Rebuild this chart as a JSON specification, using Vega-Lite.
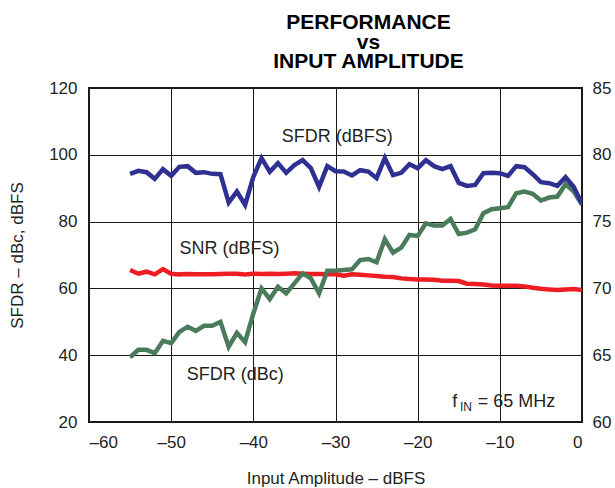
{
  "$schema": "https://vega.github.io/schema/vega-lite/v6.json",
  "width": 493,
  "height": 334,
  "autosize": {"type": "none"},
  "padding": {"left": 89, "top": 88, "right": 33, "bottom": 66},
  "background": "white",
  "config": {
    "font": "Liberation Sans",
    "view": {"stroke": "#1a1a1a", "strokeWidth": 2},
    "axis": {
      "domain": false,
      "ticks": false,
      "labelFont": "Liberation Sans",
      "labelFontSize": 17,
      "labelColor": "#231f20",
      "titleFont": "Liberation Sans",
      "titleFontSize": 17,
      "titleFontWeight": "normal",
      "titleColor": "#231f20",
      "gridColor": "#1a1a1a",
      "gridWidth": 1,
      "gridOpacity": 1
    }
  },
  "title": {
    "text": ["PERFORMANCE", "vs", "INPUT AMPLITUDE"],
    "font": "Liberation Sans",
    "fontSize": 21,
    "fontWeight": "bold",
    "color": "#000000",
    "anchor": "middle",
    "dx": 33,
    "lineHeight": 19.5,
    "offset": 7
  },
  "datasets": {
    "perf": [
      {"x": -55, "dbfs": 94.3, "snr": 65.5, "dbc": 39.4},
      {"x": -54, "dbfs": 95.2, "snr": 64.4, "dbc": 41.6},
      {"x": -53, "dbfs": 94.8, "snr": 65.0, "dbc": 41.6},
      {"x": -52, "dbfs": 92.8, "snr": 64.2, "dbc": 40.6},
      {"x": -51, "dbfs": 95.7, "snr": 65.8, "dbc": 44.3},
      {"x": -50, "dbfs": 93.7, "snr": 64.4, "dbc": 43.6},
      {"x": -49, "dbfs": 96.4, "snr": 64.2, "dbc": 47.0},
      {"x": -48, "dbfs": 96.6, "snr": 64.3, "dbc": 48.5},
      {"x": -47, "dbfs": 94.6, "snr": 64.2, "dbc": 47.3},
      {"x": -46, "dbfs": 94.8, "snr": 64.2, "dbc": 48.8},
      {"x": -45, "dbfs": 94.3, "snr": 64.2, "dbc": 48.8},
      {"x": -44, "dbfs": 94.2, "snr": 64.3, "dbc": 50.0},
      {"x": -43, "dbfs": 85.7, "snr": 64.4, "dbc": 42.5},
      {"x": -42, "dbfs": 89.0, "snr": 64.4, "dbc": 46.7},
      {"x": -41, "dbfs": 85.0, "snr": 64.2, "dbc": 43.9},
      {"x": -40, "dbfs": 93.4, "snr": 64.4, "dbc": 52.5},
      {"x": -39, "dbfs": 99.0, "snr": 64.3, "dbc": 60.0},
      {"x": -38, "dbfs": 94.9, "snr": 64.4, "dbc": 56.8},
      {"x": -37, "dbfs": 97.5, "snr": 64.3, "dbc": 60.5},
      {"x": -36, "dbfs": 94.6, "snr": 64.4, "dbc": 58.5},
      {"x": -35, "dbfs": 96.9, "snr": 64.5, "dbc": 61.5},
      {"x": -34, "dbfs": 98.4, "snr": 64.4, "dbc": 64.5},
      {"x": -33, "dbfs": 96.0, "snr": 64.3, "dbc": 63.0},
      {"x": -32, "dbfs": 90.4, "snr": 64.3, "dbc": 58.5},
      {"x": -31, "dbfs": 96.6, "snr": 64.2, "dbc": 65.3},
      {"x": -30, "dbfs": 95.1, "snr": 64.2, "dbc": 65.3},
      {"x": -29, "dbfs": 95.0, "snr": 63.8, "dbc": 65.5},
      {"x": -28, "dbfs": 93.8, "snr": 64.2, "dbc": 65.7},
      {"x": -27, "dbfs": 95.4, "snr": 64.1, "dbc": 68.5},
      {"x": -26, "dbfs": 95.0, "snr": 63.9, "dbc": 68.8},
      {"x": -25, "dbfs": 93.0, "snr": 63.7, "dbc": 67.8},
      {"x": -24, "dbfs": 99.0, "snr": 63.5, "dbc": 74.7},
      {"x": -23, "dbfs": 93.9, "snr": 63.4, "dbc": 70.7},
      {"x": -22, "dbfs": 94.6, "snr": 63.0, "dbc": 72.2},
      {"x": -21, "dbfs": 97.2, "snr": 62.8, "dbc": 76.0},
      {"x": -20, "dbfs": 96.0, "snr": 62.7, "dbc": 75.7},
      {"x": -19, "dbfs": 98.4, "snr": 62.7, "dbc": 79.5},
      {"x": -18, "dbfs": 96.6, "snr": 62.6, "dbc": 78.8},
      {"x": -17, "dbfs": 95.7, "snr": 62.3, "dbc": 78.8},
      {"x": -16, "dbfs": 96.6, "snr": 62.3, "dbc": 80.8},
      {"x": -15, "dbfs": 91.6, "snr": 62.2, "dbc": 76.3},
      {"x": -14, "dbfs": 90.7, "snr": 61.4, "dbc": 76.7},
      {"x": -13, "dbfs": 91.0, "snr": 61.3, "dbc": 77.7},
      {"x": -12, "dbfs": 94.5, "snr": 61.2, "dbc": 82.5},
      {"x": -11, "dbfs": 94.6, "snr": 60.9, "dbc": 83.7},
      {"x": -10, "dbfs": 94.5, "snr": 60.8, "dbc": 84.0},
      {"x": -9, "dbfs": 93.7, "snr": 60.8, "dbc": 84.3},
      {"x": -8, "dbfs": 96.6, "snr": 60.8, "dbc": 88.5},
      {"x": -7, "dbfs": 96.3, "snr": 60.6, "dbc": 89.0},
      {"x": -6, "dbfs": 94.2, "snr": 60.2, "dbc": 88.3},
      {"x": -5, "dbfs": 91.8, "snr": 59.9, "dbc": 86.3},
      {"x": -4, "dbfs": 91.5, "snr": 59.7, "dbc": 87.2},
      {"x": -3, "dbfs": 90.7, "snr": 59.5, "dbc": 87.5},
      {"x": -2, "dbfs": 93.3, "snr": 59.7, "dbc": 91.2},
      {"x": -1, "dbfs": 90.4, "snr": 59.8, "dbc": 89.0},
      {"x": 0, "dbfs": 85.3, "snr": 59.5, "dbc": 85.0}
    ],
    "notes": [
      {"label": "SFDR (dBFS)", "x": -29.8, "value": 103.7},
      {"label": "SNR (dBFS)", "x": -42.9, "value": 70.3},
      {"label": "SFDR (dBc)", "x": -42.2, "value": 32.6}
    ],
    "fin": [
      {"part": "f", "x": -15.8, "value": 24.6},
      {"part": "= 65 MHz", "x": -12.7, "value": 24.6}
    ],
    "finsub": [
      {"part": "IN", "x": -14.85, "value": 23.4}
    ]
  },
  "layer": [
    {
      "encoding": {
        "x": {
          "field": "x",
          "type": "quantitative",
          "scale": {"domain": [-60, 0], "nice": false, "zero": false},
          "axis": {
            "values": [-60, -50, -40, -30, -20, -10, 0],
            "grid": true,
            "labelPadding": 12,
            "labelExpr": "datum.value < 0 ? '\u2013' + abs(datum.value) : '' + datum.value",
            "title": "Input Amplitude \u2013 dBFS",
            "titlePadding": 20
          }
        },
        "y": {
          "field": "value",
          "type": "quantitative",
          "scale": {"domain": [20, 120], "nice": false, "zero": false},
          "axis": {
            "values": [20, 40, 60, 80, 100, 120],
            "grid": true,
            "labelPadding": 12,
            "title": "SFDR \u2013 dBc, dBFS",
            "titlePadding": 22
          }
        }
      },
      "layer": [
        {
          "data": {"name": "perf"},
          "transform": [{"fold": ["snr", "dbc", "dbfs"], "as": ["series", "value"]}],
          "mark": {"type": "line", "strokeWidth": 4.5, "clip": true},
          "encoding": {
            "color": {
              "field": "series",
              "type": "nominal",
              "scale": {"domain": ["snr", "dbc", "dbfs"], "range": ["#ee1d23", "#4a7b5b", "#2e3192"]},
              "legend": null
            },
            "order": {"field": "x", "type": "quantitative"}
          }
        },
        {
          "data": {"name": "notes"},
          "mark": {"type": "text", "fontSize": 18, "align": "center", "baseline": "alphabetic", "color": "#231f20", "font": "Liberation Sans"},
          "encoding": {
            "text": {"field": "label"}
          }
        },
        {
          "data": {"name": "fin"},
          "mark": {"type": "text", "fontSize": 18, "align": "left", "baseline": "alphabetic", "color": "#231f20", "font": "Liberation Sans"},
          "encoding": {
            "text": {"field": "part"}
          }
        },
        {
          "data": {"name": "finsub"},
          "mark": {"type": "text", "fontSize": 12, "align": "left", "baseline": "alphabetic", "color": "#231f20", "font": "Liberation Sans"},
          "encoding": {
            "text": {"field": "part"}
          }
        }
      ]
    },
    {
      "data": {"name": "perf"},
      "mark": {"type": "point", "opacity": 0, "clip": true},
      "encoding": {
        "y": {
          "field": "snr",
          "type": "quantitative",
          "scale": {"domain": [60, 85], "nice": false, "zero": false},
          "axis": {
            "orient": "right",
            "values": [60, 65, 70, 75, 80, 85],
            "grid": false,
            "labelPadding": 10,
            "title": null
          }
        }
      }
    }
  ],
  "resolve": {"scale": {"y": "independent"}}
}
